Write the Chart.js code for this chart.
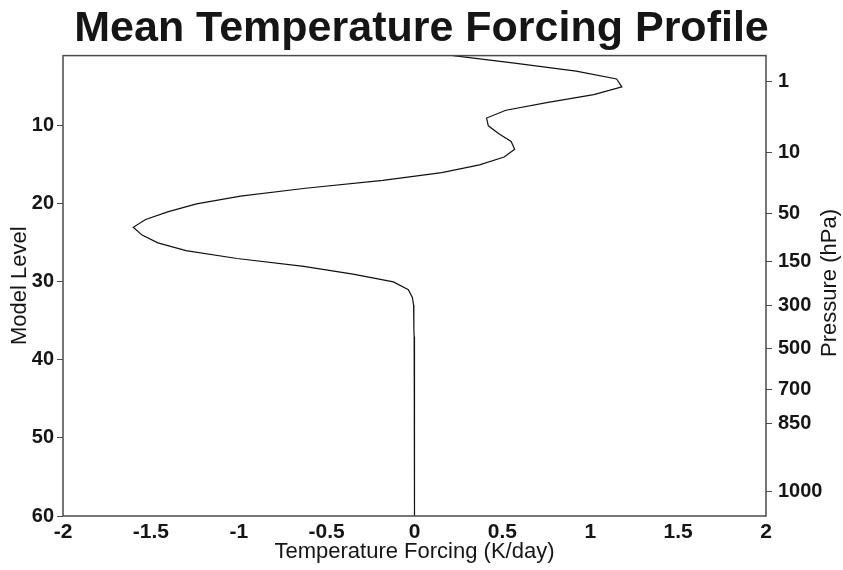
<!DOCTYPE html>
<html><head><meta charset="utf-8">
<script src="https://cdn.jsdelivr.net/npm/chart.js@4.4.0/dist/chart.umd.min.js"></script>
<style>html,body{margin:0;padding:0;background:#fff;} #wrap{width:843px;height:570px;}</style>
</head><body><div id="wrap"><canvas id="c" width="843" height="570"></canvas></div>
<script>
// ---- data ----
const modelLevels = [1,2,3,4,5,6,7,8,9,10,11,12,13,14,15,16,17,18,19,20,21,22,23,24,25,26,27,28,29,30,
  31,32,33,34,35,36,37,38,39,40,41,42,43,44,45,46,47,48,49,50,51,52,53,54,55,56,57,58,59,60];
const forcing = [0.22,0.58,0.92,1.15,1.18,1.02,0.76,0.52,0.41,0.42,
  0.48,0.55,0.57,0.51,0.37,0.155,-0.18,-0.62,-0.99,-1.24,
  -1.40,-1.53,-1.60,-1.55,-1.46,-1.30,-1.01,-0.63,-0.35,-0.12,
  -0.035,-0.012,-0.005,-0.004,-0.004,-0.003,-0.002,-0.001,0,0,
  0,0,0,0,0,0,0,0,0,0,
  0,0,0,0,0,0,0,0,0,0];
const xTicks = [-2,-1.5,-1,-0.5,0,0.5,1,1.5,2];
const xTickLabels = ['-2','-1.5','-1','-0.5','0','0.5','1','1.5','2'];
const levelTicks = [10,20,30,40,50,60];
const pressureLabels = ['1','10','50','150','300','500','700','850','1000'];
const pressureLevels = [4.27,13.44,21.26,27.42,33.06,38.58,43.84,48.20,56.92];

const FAMILY = "'Liberation Sans', Arial, Helvetica, sans-serif";
const TXT = '#151515';
Chart.defaults.font.family = FAMILY;
Chart.defaults.color = TXT;

const boxPlugin = {
  id: 'box',
  afterDraw(chart) {
    const {ctx, chartArea: a} = chart;
    ctx.save();
    ctx.strokeStyle = '#4a4a4a';
    ctx.lineWidth = 1.5;
    ctx.strokeRect(a.left, a.top, a.right - a.left, a.bottom - a.top);
    // right axis title, reading bottom to top
    ctx.translate(830, 283);
    ctx.rotate(-Math.PI / 2);
    ctx.font = "22px " + FAMILY;
    ctx.fillStyle = TXT;
    ctx.textAlign = 'center';
    ctx.textBaseline = 'middle';
    ctx.fillText('Pressure (hPa)', 0, 0);
    ctx.restore();
  }
};

new Chart(document.getElementById('c'), {
  type: 'scatter',
  data: {
    datasets: [{
      data: forcing.map((v, i) => ({x: v, y: modelLevels[i]})),
      showLine: true,
      borderColor: '#111',
      borderWidth: 1.2,
      pointRadius: 0,
      tension: 0,
      yAxisID: 'y'
    }]
  },
  options: {
    responsive: false,
    animation: false,
    devicePixelRatio: 1,
    layout: {padding: 0},
    plugins: {
      legend: {display: false},
      tooltip: {enabled: false},
      title: {
        display: true,
        text: 'Mean Temperature Forcing Profile',
        color: TXT,
        font: {size: 43, weight: 'bold', lineHeight: 1.2},
        padding: {top: 3, bottom: 1}
      }
    },
    scales: {
      x: {
        type: 'linear', position: 'bottom', min: -2, max: 2,
        afterBuildTicks: s => { s.ticks = xTicks.map(v => ({value: v})); },
        afterFit: s => { s.height = 54; },
        grid: {display: false, drawTicks: false},
        border: {display: false},
        ticks: {font: {size: 21, weight: 'bold'}, padding: 4, autoSkip: false, maxRotation: 0,
          callback: (v, i) => xTickLabels[i]},
        title: {display: true, text: 'Temperature Forcing (K/day)', font: {size: 22}, padding: {top: 0, bottom: 5}}
      },
      y: {
        type: 'linear', position: 'left', reverse: true, min: 1, max: 60,
        afterBuildTicks: s => { s.ticks = levelTicks.map(v => ({value: v})); },
        afterFit: s => { s.width = 63; },
        grid: {display: true, drawOnChartArea: false, drawTicks: true, tickLength: 6, color: '#4a4a4a'},
        border: {display: false},
        ticks: {font: {size: 20, weight: 'bold'}, padding: 3, autoSkip: false},
        title: {display: true, text: 'Model Level', font: {size: 22}, padding: {top: 7, bottom: 0}}
      },
      y2: {
        type: 'linear', position: 'right', reverse: true, min: 1, max: 60,
        afterBuildTicks: s => { s.ticks = pressureLevels.map(v => ({value: v})); },
        afterFit: s => { s.width = 77; },
        grid: {display: true, drawOnChartArea: false, drawTicks: true, tickLength: 6, color: '#4a4a4a'},
        border: {display: false},
        ticks: {font: {size: 20, weight: 'bold'}, padding: 6, autoSkip: false,
          callback: (v, i) => pressureLabels[i]}
      }
    }
  },
  plugins: [boxPlugin]
});
</script>
</body></html>
